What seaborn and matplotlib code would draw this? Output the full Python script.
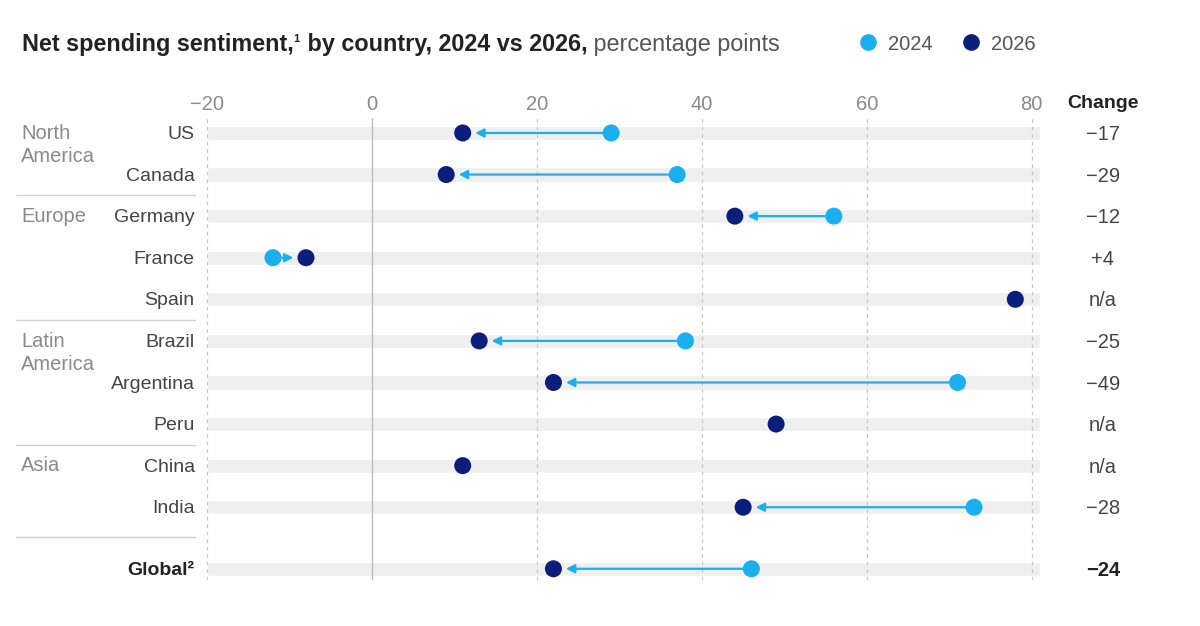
import numpy as np
import pandas as pd
import matplotlib
matplotlib.use("Agg")
import matplotlib.pyplot as plt
import seaborn as sns
from matplotlib.lines import Line2D

sns.set_style("white")
plt.rcParams['font.family'] = ['Liberation Sans', 'DejaVu Sans']

# data
countries = ['US', 'Canada', 'Germany', 'France', 'Spain', 'Brazil',
             'Argentina', 'Peru', 'China', 'India', 'Global²']
row_pos = [0, 1, 2, 3, 4, 5, 6, 7, 8, 9, 10.48]
vals_2024 = [29, 37, 56, -12, np.nan, 38, 71, np.nan, np.nan, 73, 46]
vals_2026 = [11, 9, 44, -8, 78, 13, 22, 49, 11, 45, 22]
changes = ['−17', '−29', '−12', '+4', 'n/a', '−25', '−49', 'n/a', 'n/a', '−28', '−24']
regions = ['North\nAmerica', 'Europe', 'Latin\nAmerica', 'Asia']
region_rows = [0, 2, 5, 8]
separators = [1.5, 4.5, 7.5, 9.72]
xticks = [-20, 0, 20, 40, 60, 80]

C24 = '#1ab0f0'
C26 = '#0b1f7a'
GREY = '#8a8a8a'
DARK = '#222222'

df = pd.DataFrame({'country': countries, 'y': row_pos,
                   '2024': vals_2024, '2026': vals_2026})
long = df.melt(id_vars=['country', 'y'], value_vars=['2024', '2026'],
               var_name='year', value_name='value').dropna()

fig = plt.figure(figsize=(12, 6.26), dpi=100)
ax = fig.add_axes([200 / 1200, 1 - 580 / 626, 845 / 1200, 462 / 626])

# background bands
ax.barh(df['y'], width=101, left=-20, height=0.34, color='#efefef', zorder=0)

# grid lines
for t in xticks:
    if t == 0:
        ax.axvline(t, color='#bdbdbd', lw=1.0, zorder=0.5)
    else:
        ax.axvline(t, color='#c8c8c8', lw=0.9, ls=(0, (3, 3)), zorder=0.5)

# arrows from 2024 to 2026
for _, r in df.iterrows():
    if np.isnan(r['2024']):
        continue
    ax.annotate('', xy=(r['2026'], r['y']), xytext=(r['2024'], r['y']),
                arrowprops=dict(arrowstyle='-|>,head_length=0.5,head_width=0.25',
                                color=C24, lw=1.6, shrinkA=0, shrinkB=9),
                zorder=2)

sns.scatterplot(data=long, x='value', y='y', hue='year',
                palette={'2024': C24, '2026': C26}, s=150, linewidth=0,
                legend=False, ax=ax, zorder=3)

ax.set_xlim(-20.85, 81.6)
ax.set_ylim(10.75, -0.36)
ax.set_xticks(xticks)
ax.set_xticklabels(['−20', '0', '20', '40', '60', '80'])
ax.xaxis.tick_top()
ax.tick_params(axis='x', length=0, pad=3, labelsize=14.5, labelcolor=GREY)
ax.set_yticks([])
ax.set_xlabel('')
ax.set_ylabel('')
for s in ax.spines.values():
    s.set_visible(False)

# country labels
for name, y in zip(countries, row_pos):
    bold = name.startswith('Global')
    ax.text(-21.5, y + 0.04, name, ha='right', va='center', fontsize=14,
            color=DARK if bold else '#444444',
            fontweight='bold' if bold else 'normal', clip_on=False)

# region labels and separators
for name, y in zip(regions, region_rows):
    ax.text(-42.5, y - 0.22, name, ha='left', va='top', fontsize=14.5,
            color=GREY, linespacing=1.3, clip_on=False)
for y in separators:
    ax.plot([-43.2, -21.4], [y, y], color='#d0d0d0', lw=1.0, clip_on=False)

# change column
ax.text(88.6, -0.7, 'Change', ha='center', va='center', fontsize=14,
        fontweight='bold', color=DARK, clip_on=False)
for c, y in zip(changes, row_pos):
    bold = y == row_pos[-1]
    ax.text(88.6, y + 0.04, c, ha='center', va='center', fontsize=14.5,
            color=DARK if bold else '#444444',
            fontweight='bold' if bold else 'normal', clip_on=False)

# title
t1 = fig.text(22 / 1200, 1 - 44 / 626, 'Net spending sentiment,',
              fontsize=16.8, fontweight='bold', color=DARK, va='center')
t2 = ax.annotate('1', xy=(1, 0.72), xycoords=t1, fontsize=8,
                 fontweight='bold', color=DARK, va='center', ha='left')
t3 = ax.annotate(' by country, 2024 vs 2026,', xy=(1, 0.5), xycoords=t1,
                 xytext=(5, 0), textcoords='offset points', fontsize=16.8,
                 fontweight='bold', color=DARK, va='center', ha='left')
t4 = ax.annotate(' percentage points', xy=(1, 0.5), xycoords=t3,
                 fontsize=16.8, color='#555555', va='center', ha='left')

# legend
handles = [Line2D([], [], marker='o', ls='', color=C24, markersize=11, label='2024'),
           Line2D([], [], marker='o', ls='', color=C26, markersize=11, label='2026')]
fig.legend(handles=handles, loc='center left', bbox_to_anchor=(830 / 1200, 1 - 44 / 626),
           ncol=2, frameon=False, fontsize=14.5, handletextpad=0.0,
           columnspacing=0.9, labelcolor='#555555')

fig.savefig('out.png', dpi=100, facecolor='white')
